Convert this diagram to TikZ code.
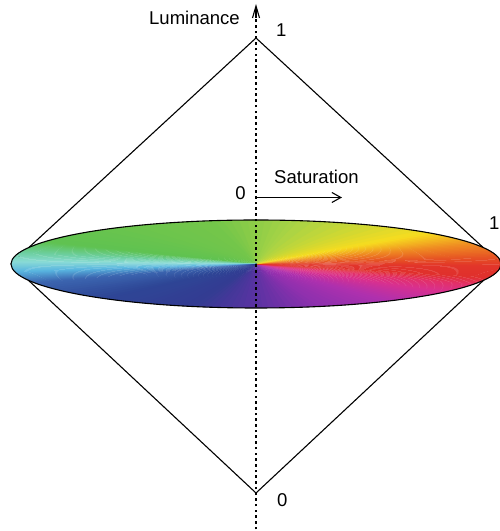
\documentclass[tikz,border=0pt]{standalone}
\usepackage{fontspec}
\setmainfont{Liberation Sans}
\usetikzlibrary{arrows.meta}
\definecolor{k1}{HTML}{5A32A2}
\definecolor{k2}{HTML}{8E30AE}
\definecolor{k3}{HTML}{B030AE}
\definecolor{k4}{HTML}{D83090}
\definecolor{k5}{HTML}{E33068}
\definecolor{k6}{HTML}{E0302C}
\definecolor{k6b}{HTML}{E2352A}
\definecolor{k7}{HTML}{E65024}
\definecolor{k8}{HTML}{EF8C22}
\definecolor{k9}{HTML}{F7DC1F}
\definecolor{k10}{HTML}{A9D445}
\definecolor{k11}{HTML}{74C64A}
\definecolor{k12}{HTML}{5FC251}
\definecolor{k13}{HTML}{6DCFA0}
\definecolor{k14}{HTML}{8ADCD6}
\definecolor{k15}{HTML}{5AB6E0}
\definecolor{k16}{HTML}{3C66B0}
\definecolor{k17}{HTML}{2E4696}
\definecolor{k18}{HTML}{333C92}
\tikzset{
  lbl/.style={inner sep=0pt, font=\fontsize{18.6}{20}\selectfont},
  diam/.style={line width=1.1bp, draw=black},
  axisline/.style={line width=2.2bp, dash pattern=on 2.6bp off 3.1bp},
  barb/.style={line width=1.1bp}
}
\begin{document}
\begin{tikzpicture}[x=1bp,y=1bp,line join=round]
\useasboundingbox (0,0) rectangle (500,531);
\coordinate (C) at (256,267);
\coordinate (T) at (256,493);
\coordinate (B) at (256,38);
\coordinate (L) at (11,267);
\coordinate (R) at (501,267);
\coordinate (axb) at (256,-4);
\coordinate (axt) at (256,527);
\coordinate (s0) at (256,333.5);
\coordinate (s1) at (342,333.5);
% diamond
\draw[diam] (T) -- (L) -- (B) -- (R) -- cycle;
% colour wheel
\begin{scope}
\clip (C) ellipse [x radius=245, y radius=44];
\begin{scope}[shift={(C)}]
\foreach \ta/\ca/\tb/\cb in {-90/k1/-75/k2, -75/k2/-57/k3, -57/k3/-40/k4, -40/k4/-28/k5, -28/k5/-18/k6, -18/k6/-3/k6b, -3/k6b/8/k7, 8/k7/27/k8, 27/k8/45/k9, 45/k9/80/k10, 80/k10/100/k11, 100/k11/150/k12, 150/k12/165/k13, 165/k13/177/k14, 177/k14/190/k15, 190/k15/205/k16, 205/k16/230/k17, 230/k17/255/k18, 255/k18/270/k1}{
  \pgfmathsetmacro\dt{(\tb-\ta)/10}
  \foreach \k in {0,...,9}{
    \pgfmathsetmacro\a{\ta+\k*\dt}
    \pgfmathsetmacro\b{\a+\dt*1.4}
    \pgfmathtruncatemacro\p{100-(\k+0.5)*10}
    \fill[fill=\ca!\p!\cb] (0,0) -- ({300*cos(\a)},{54*sin(\a)}) -- ({300*cos(\b)},{54*sin(\b)}) -- cycle;
  }
}
\end{scope}
\end{scope}
\draw[line width=1.1bp] (C) ellipse [x radius=245, y radius=44];
% luminance axis
\draw[axisline] (axb) -- ([yshift=-2bp]axt);
\draw[barb, -{Straight Barb[length=12bp,width=7bp]}] ([yshift=-14bp]axt) -- (axt);
% saturation arrow
\draw[barb, -{Straight Barb[length=9bp,width=10bp]}] (s0) -- (s1);
% labels
\node[lbl, anchor=base east] (lum) at (240,506) {Luminance};
\node[lbl, anchor=base west] (one) at (276,494) {1};
\node[lbl, anchor=base east] (zs) at (246,331) {0};
\node[lbl, anchor=base west] (sat) at (274,347) {Saturation};
\node[lbl, anchor=base west] (ones) at (489,301) {1};
\node[lbl, anchor=base west] (zb) at (277,24) {0};
\end{tikzpicture}
\end{document}
